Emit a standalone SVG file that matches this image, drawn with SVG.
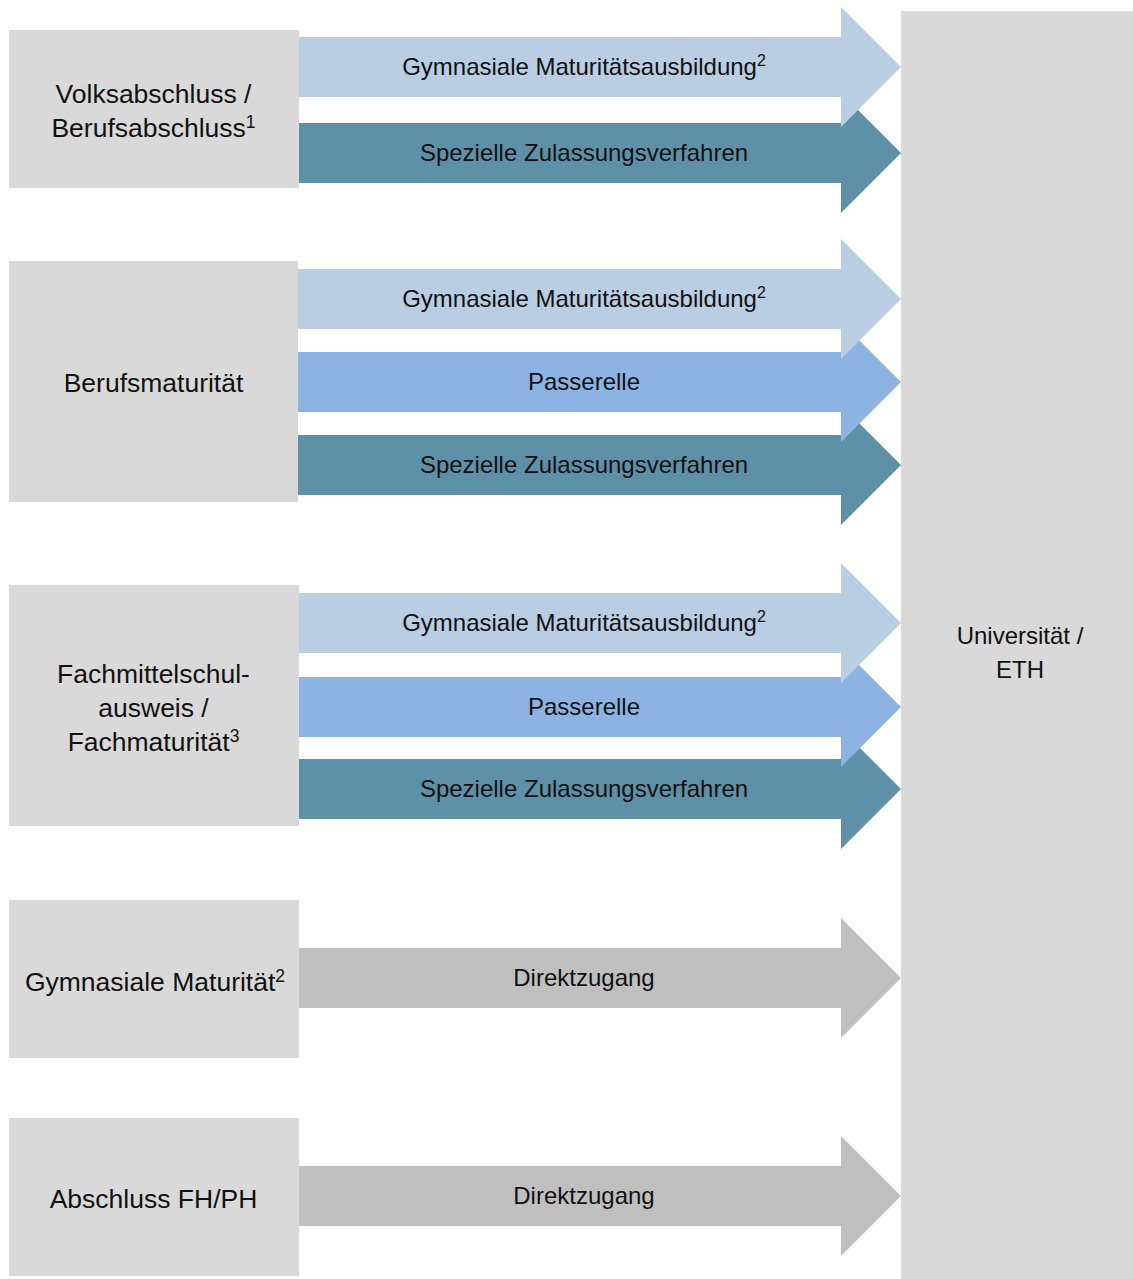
<svg xmlns="http://www.w3.org/2000/svg" width="1133" height="1279" viewBox="0 0 1133 1279">
<style>
.box{fill:#D9D9D9}
.lt{fill:#B9CDE3}
.ps{fill:#8DB3E2}
.dk{fill:#5E90A7}
.gr{fill:#BFBFBF}
text{font-family:"Liberation Sans",Arial,sans-serif;fill:#111;text-anchor:middle}
.nt{font-size:26.5px}
.at{font-size:24px}
.sup{font-size:16px}
.sup2{font-size:17.5px}
</style>
<rect width="1133" height="1279" fill="#fff"/>
<g id="uni"><rect class="box" x="901" y="11" width="232" height="1268"/>
<text class="at" x="1020" y="643.5">Universität /</text>
<text class="at" x="1020" y="677.5">ETH</text></g>
<g id="connectors">
<polygon class="dk" points="298,123 841,123 841,93 901,153 841,213 841,183 298,183"/>
<polygon class="lt" points="298,37 841,37 841,7 901,67 841,127 841,97 298,97"/>
<polygon class="dk" points="297,435 841,435 841,405 901,465 841,525 841,495 297,495"/>
<polygon class="ps" points="297,352 841,352 841,322 901,382 841,442 841,412 297,412"/>
<polygon class="lt" points="297,269 841,269 841,239 901,299 841,359 841,329 297,329"/>
<polygon class="dk" points="298,759 841,759 841,729 901,789 841,849 841,819 298,819"/>
<polygon class="ps" points="298,677 841,677 841,647 901,707 841,767 841,737 298,737"/>
<polygon class="lt" points="298,593 841,593 841,563 901,623 841,683 841,653 298,653"/>
<polygon class="gr" points="298,948 841,948 841,918 901,978 841,1038 841,1008 298,1008"/>
<polygon class="gr" points="297,1166 841,1166 841,1136 901,1196 841,1256 841,1226 297,1226"/>
<text class="at" x="584" y="74.5">Gymnasiale Maturitätsausbildung<tspan class="sup" dy="-9">2</tspan></text>
<text class="at" x="584" y="160.5">Spezielle Zulassungsverfahren</text>
<text class="at" x="584" y="306.5">Gymnasiale Maturitätsausbildung<tspan class="sup" dy="-9">2</tspan></text>
<text class="at" x="584" y="389.5">Passerelle</text>
<text class="at" x="584" y="472.5">Spezielle Zulassungsverfahren</text>
<text class="at" x="584" y="630.5">Gymnasiale Maturitätsausbildung<tspan class="sup" dy="-9">2</tspan></text>
<text class="at" x="584" y="714.5">Passerelle</text>
<text class="at" x="584" y="796.5">Spezielle Zulassungsverfahren</text>
<text class="at" x="584" y="985.5">Direktzugang</text>
<text class="at" x="584" y="1203.5">Direktzugang</text>
</g>
<g id="n1"><rect class="box" x="9" y="30" width="290" height="158"/>
<text class="nt" x="153.5" y="102.5">Volksabschluss /</text>
<text class="nt" x="153.5" y="136.5">Berufsabschluss<tspan class="sup2" dy="-9">1</tspan></text></g>
<g id="n2"><rect class="box" x="9" y="261" width="289" height="241"/>
<text class="nt" x="153.5" y="391.5">Berufsmaturität</text></g>
<g id="n3"><rect class="box" x="9" y="585" width="290" height="241"/>
<text class="nt" x="153.5" y="682.5">Fachmittelschul-</text>
<text class="nt" x="153.5" y="716.5">ausweis /</text>
<text class="nt" x="153.5" y="750.5">Fachmaturität<tspan class="sup2" dy="-9">3</tspan></text></g>
<g id="n4"><rect class="box" x="9" y="900" width="290" height="158"/>
<text class="nt" x="155" y="990.5">Gymnasiale Maturität<tspan class="sup2" dy="-9">2</tspan></text></g>
<g id="n5"><rect class="box" x="9" y="1118" width="290" height="158"/>
<text class="nt" x="153.5" y="1207.5">Abschluss FH/PH</text></g>
</svg>
